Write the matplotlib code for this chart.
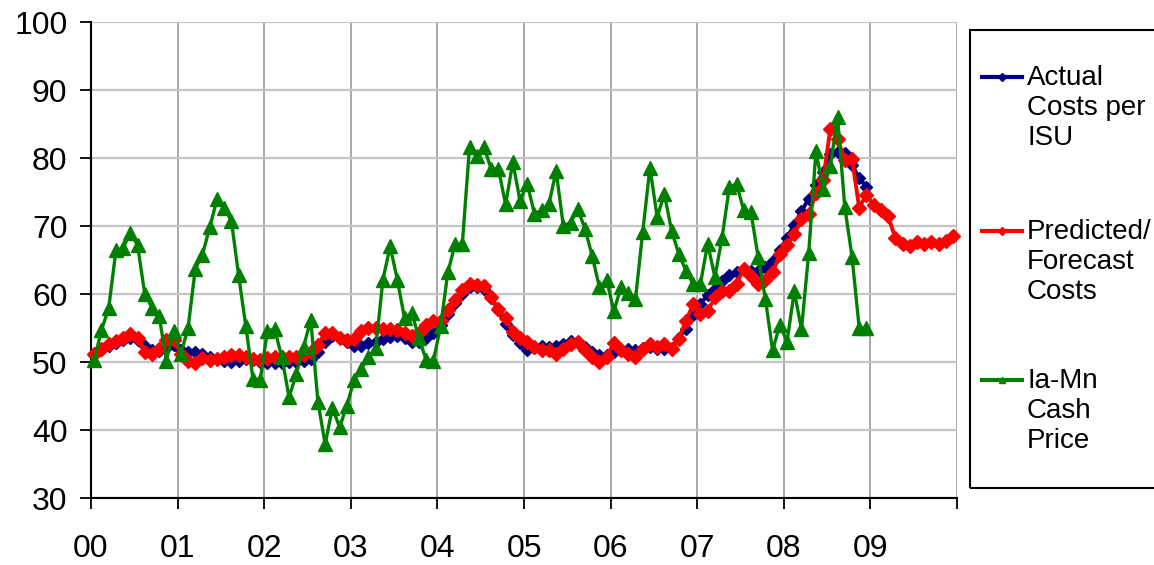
import numpy as np
import matplotlib
matplotlib.use("Agg")
import matplotlib.pyplot as plt
from matplotlib.lines import Line2D
from matplotlib.patches import Rectangle

plt.rcParams["font.family"] = ["Liberation Sans", "DejaVu Sans"]

# monthly values, Jan 2000 onwards
actual_costs = [
    51.0, 51.7, 52.3, 52.8, 53.2, 53.6, 53.3, 52.4, 51.8, 51.6, 52.0, 52.5,
    51.8, 51.5, 51.5, 51.2, 50.8, 50.4, 50.1, 50.0, 50.1, 50.4, 50.3, 50.0,
    49.9, 49.9, 49.9, 50.0, 50.0, 50.2, 50.5, 51.5, 53.0, 53.8, 53.5, 53.0,
    52.4, 52.3, 52.8, 53.0, 53.4, 53.7, 53.8, 53.5, 53.0, 53.0, 53.5, 54.2,
    55.5, 57.1, 58.7, 60.0, 61.0, 61.0, 60.8, 59.4, 57.6, 55.6, 54.0, 52.8,
    51.8, 52.1, 52.4, 52.2, 52.3, 52.6, 53.1, 52.9, 52.2, 51.5, 51.0, 51.0,
    51.4, 51.7, 51.9, 51.7, 52.1, 52.2, 51.9, 51.9, 52.1, 53.6, 54.9, 56.9,
    58.6, 59.8, 60.7, 61.9, 62.8, 63.2, 63.6, 63.4, 63.4, 63.9, 64.8, 66.4,
    68.3, 70.2, 72.2, 74.0, 76.0, 78.0, 80.6, 80.9, 80.8, 79.0, 77.0, 75.8,
]

forecast_costs = [
    51.2, 51.9, 52.6, 53.1, 53.6, 54.1, 53.6, 51.5, 51.2, 51.9, 53.2, 53.3,
    51.2, 50.2, 49.9, 50.6, 50.3, 50.5, 50.7, 51.1, 51.0, 50.7, 50.5, 50.3,
    50.6, 50.7, 50.7, 50.8, 50.8, 51.0, 51.5, 52.5, 54.3, 54.2, 53.6, 53.2,
    53.4, 54.6, 55.0, 55.0, 54.8, 54.8, 54.7, 54.3, 53.8, 54.3, 55.5, 56.0,
    56.0, 57.6, 59.1, 60.6, 61.5, 61.3, 61.2, 59.6, 57.8, 56.4, 54.4, 53.6,
    52.9, 52.2, 51.8, 51.7, 51.2, 51.9, 52.6, 53.0, 51.7, 50.7, 50.0, 50.8,
    52.8, 51.7, 51.2, 50.7, 51.9, 52.6, 52.2, 52.6, 51.9, 53.4, 56.1, 58.5,
    57.1, 57.5, 59.5, 60.5, 60.5, 61.5, 63.7, 62.7, 61.5, 62.0, 63.2, 65.9,
    67.2, 68.8, 71.0, 71.7, 74.8, 76.8, 84.3, 82.8, 79.7, 79.9, 72.7, 74.6,
    73.1, 72.4, 71.4, 68.3, 67.3, 67.1, 67.6, 67.3, 67.6, 67.3, 67.8, 68.6,
]

cash_price = [
    50.3, 54.7, 57.9, 66.4, 66.8, 69.0, 67.2, 60.0, 58.0, 56.7, 50.2, 54.6,
    51.2, 55.0, 63.7, 65.8, 69.8, 73.9, 72.6, 70.8, 62.8, 55.3, 47.5, 47.4,
    54.6, 54.8, 50.7, 44.8, 48.3, 52.2, 56.2, 44.1, 37.9, 43.3, 40.4, 43.6,
    47.3, 49.0, 50.7, 52.0, 62.1, 67.0, 62.1, 56.4, 57.2, 53.5, 50.3, 50.2,
    55.3, 63.2, 67.3, 67.3, 81.6, 80.3, 81.6, 78.4, 78.4, 73.2, 79.4, 73.7,
    76.2, 71.8, 72.3, 73.2, 78.1, 70.0, 70.5, 72.5, 69.6, 65.6, 61.0, 62.1,
    57.5, 61.0, 60.2, 59.3, 69.1, 78.6, 71.3, 74.7, 69.3, 65.9, 63.4, 61.5,
    61.5, 67.4, 62.5, 68.3, 75.7, 76.2, 72.3, 72.0, 65.4, 59.3, 51.7, 55.5,
    53.0, 60.4, 54.8, 66.0, 81.0, 75.5, 78.8, 86.0, 72.8, 65.5, 55.0, 55.0,
]

year_labels = ["00", "01", "02", "03", "04", "05", "06", "07", "08", "09", ""]
legend_labels = ["Actual\nCosts per\nISU", "Predicted/\nForecast\nCosts", "Ia-Mn\nCash\nPrice"]

NAVY = "#000080"
RED = "#ff0000"
GREEN = "#008000"

W, H = 1154, 565


def months(values):
    # points sit in the middle of each monthly slot
    return (np.arange(len(values)) + 0.45) / 12.0


def main():
    fig = plt.figure(figsize=(W / 100, H / 100), dpi=100)
    ax = fig.add_axes([91 / W, 1 - 498 / H, 866 / W, 476 / H])

    ax.plot(months(actual_costs), actual_costs, color=NAVY, lw=2.8,
            marker="D", ms=6.5, mec=NAVY, zorder=3, clip_on=False)
    ax.plot(months(forecast_costs), forecast_costs, color=RED, lw=2.8,
            marker="D", ms=7.5, mec=RED, zorder=4, clip_on=False)
    ax.plot(months(cash_price), cash_price, color=GREEN, lw=2.4,
            marker="^", ms=9.5, mec=GREEN, zorder=5, clip_on=False)

    ax.set_xlim(0, 10)
    ax.set_ylim(30, 100)
    ax.set_xticks(range(11))
    ax.set_xticklabels(year_labels)
    ax.set_yticks(range(30, 101, 10))

    ax.xaxis.grid(True, color="#a0a0a0", lw=1.3)
    ax.yaxis.grid(True, color="#c4c4c4", lw=1.6)
    ax.set_axisbelow(True)

    for side in ["top", "right"]:
        ax.spines[side].set_visible(False)
    for side in ["left", "bottom"]:
        ax.spines[side].set_color("black")
        ax.spines[side].set_linewidth(1.5)

    ax.tick_params(axis="x", direction="out", length=8, width=1.3,
                   pad=18, labelsize=23)
    ax.tick_params(axis="y", direction="out", length=8, width=1.3,
                   pad=9, labelsize=23)

    # legend box, drawn by hand so handles sit on the first text line
    fig.add_artist(Rectangle((970 / W, 1 - 488 / H), 250 / W, 458 / H,
                             transform=fig.transFigure, fill=False,
                             ec="black", lw=1.5))
    handles = [(NAVY, "D", 4), (RED, "D", 4), (GREEN, "^", 5)]
    line_tops = [65, 219, 368]
    for (col, mk, ms), label, top in zip(handles, legend_labels, line_tops):
        yc = 1 - (top + 12) / H
        fig.add_artist(Line2D([982 / W, 1022 / W], [yc, yc], color=col, lw=3,
                              transform=fig.transFigure))
        fig.add_artist(Line2D([1002 / W], [yc], color=col, marker=mk, ms=ms,
                              transform=fig.transFigure))
        fig.text(1027 / W, 1 - top / H, label, fontsize=20, va="top",
                 ha="left", linespacing=1.2)

    fig.savefig("out.png", dpi=100)


if __name__ == "__main__":
    main()
